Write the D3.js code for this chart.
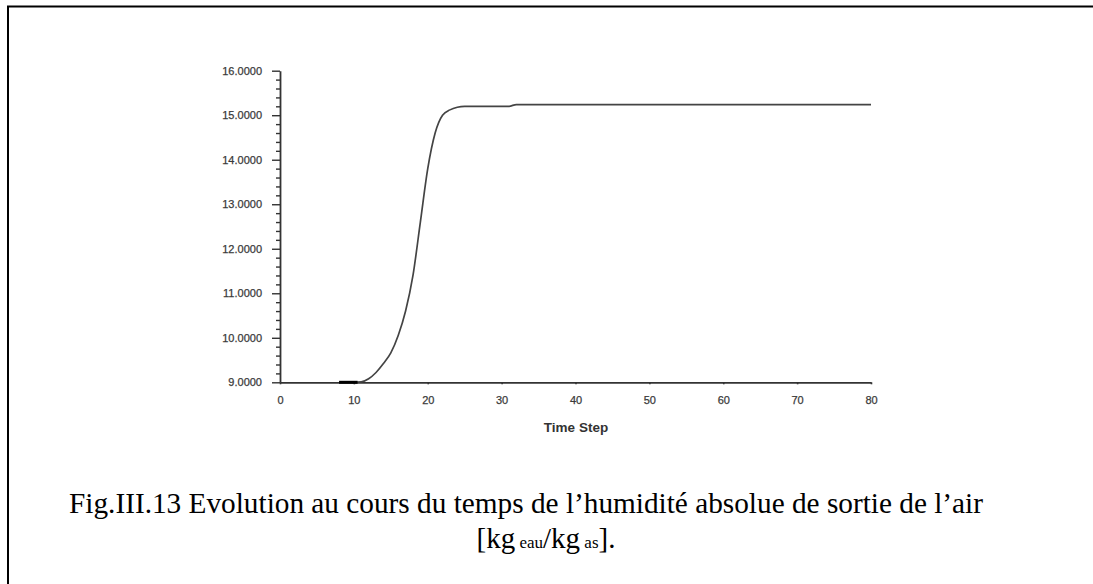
<!DOCTYPE html>
<html><head><meta charset="utf-8">
<script src="https://cdn.jsdelivr.net/npm/d3@7"></script>
<style>body{margin:0;background:#fff}svg{display:block}</style>
</head><body>
<svg id="c" width="1093" height="584"></svg>
<script>
// ---- data ----
const timeSteps = [8, 10, 11, 12, 13, 14, 15, 16, 17, 18, 19, 20, 21, 22, 23, 24, 25, 28, 31, 32, 40, 50, 60, 70, 80];
const humidity  = [9.0, 9.0, 9.01, 9.08, 9.22, 9.42, 9.66, 10.05, 10.6, 11.4, 12.6, 13.8, 14.6, 15.0, 15.12, 15.18, 15.2, 15.2, 15.2, 15.24, 15.24, 15.24, 15.24, 15.24, 15.24];
const startSteps = [8, 10.5];
const startValues = [9.0, 9.0];
const xTicks = [0, 10, 20, 30, 40, 50, 60, 70, 80];
const yTicks = [9, 10, 11, 12, 13, 14, 15, 16];
const xTitle = "Time Step";
const captionLine1 = "Fig.III.13 Evolution au cours du temps de l’humidité absolue de sortie de l’air";

const svg = d3.select("#c");
// page border
svg.append("line").attr("x1",7).attr("x2",1093).attr("y1",6.5).attr("y2",6.5).attr("stroke","#000").attr("stroke-width",2);
svg.append("line").attr("x1",8).attr("x2",8).attr("y1",6).attr("y2",584).attr("stroke","#000").attr("stroke-width",2);

const x = d3.scaleLinear().domain([0,80]).range([280,871]);
const y = d3.scaleLinear().domain([9,16]).range([382.3,70.7]);
const axisCol = "#333";
const lblFont = "Arial, 'Liberation Sans', sans-serif";

// minor y ticks
const minors = d3.range(9,16.0001,0.2).filter(v => Math.abs(v - Math.round(v)) > 1e-6);
const gMin = svg.append("g").attr("transform","translate(280,0)")
  .call(d3.axisLeft(y).tickValues(minors).tickSize(4).tickFormat(""));
gMin.select(".domain").remove();
gMin.selectAll("line").attr("stroke",axisCol).attr("stroke-width",1.4);

const gy = svg.append("g").attr("transform","translate(280,0)")
  .call(d3.axisLeft(y).tickValues(yTicks).tickSize(8).tickSizeOuter(0).tickPadding(10).tickFormat(d3.format(".4f")));
gy.select(".domain").attr("stroke",axisCol).attr("stroke-width",1.8);
gy.selectAll("line").attr("stroke",axisCol).attr("stroke-width",1.4);
gy.selectAll("text").attr("font-family",lblFont).attr("font-size",11).attr("fill","#3a3a3a")
  .attr("stroke","#3a3a3a").attr("stroke-width",0.25);

const gx = svg.append("g").attr("transform","translate(0,382.3)")
  .call(d3.axisBottom(x).tickValues(xTicks).tickSize(2).tickSizeOuter(0).tickPadding(12));
gx.select(".domain").attr("stroke",axisCol).attr("stroke-width",1.8);
gx.selectAll("line").attr("stroke",axisCol).attr("stroke-width",1.6);
gx.selectAll("text").attr("font-family",lblFont).attr("font-size",11).attr("fill","#3a3a3a")
  .attr("stroke","#3a3a3a").attr("stroke-width",0.25);

svg.append("text").attr("x",576).attr("y",432).attr("text-anchor","middle")
  .attr("font-family",lblFont).attr("font-size",13.5).attr("font-weight","bold")
  .attr("fill","#333").text(xTitle);

// curve
const line = d3.line().x(d=>x(d[0])).y(d=>y(d[1])).curve(d3.curveMonotoneX);
svg.append("path").datum(timeSteps.map((t,i)=>[t,humidity[i]]))
  .attr("d",line).attr("fill","none").attr("stroke","#444").attr("stroke-width",1.7);
svg.append("path").datum(startSteps.map((t,i)=>[t,startValues[i]]))
  .attr("d",d3.line().x(d=>x(d[0])).y(d=>y(d[1]))).attr("fill","none").attr("stroke","#000").attr("stroke-width",3);

// caption
const serif = "'Times New Roman','Liberation Serif',serif";
svg.append("text").attr("x",69).attr("y",513)
  .attr("font-family",serif).attr("font-size",29).attr("fill","#000")
  .text(captionLine1).attr("textLength",914).attr("lengthAdjust","spacingAndGlyphs");
const cap2 = svg.append("text").attr("x",546).attr("y",548).attr("text-anchor","middle")
  .attr("font-family",serif).attr("font-size",29).attr("fill","#000");
cap2.append("tspan").text("[kg");
cap2.append("tspan").attr("font-size",17).text(" eau");
cap2.append("tspan").text("/kg");
cap2.append("tspan").attr("font-size",17).text(" as");
cap2.append("tspan").text("].");
</script>
</body></html>
